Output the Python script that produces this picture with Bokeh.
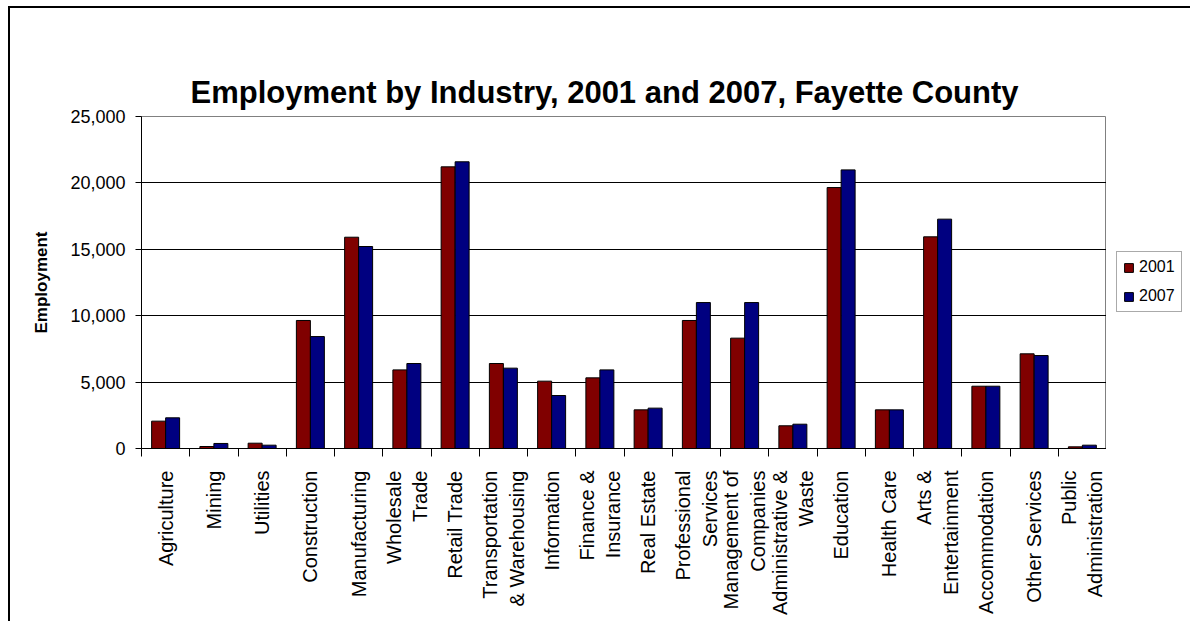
import math
from bokeh.plotting import figure
from bokeh.layouts import row
from bokeh.models import (Range1d, FixedTicker, NumeralTickFormatter, Legend, LegendItem,
                          ColumnDataSource, Title)
from bokeh.transform import dodge
from bokeh.embed import file_html
from bokeh.resources import INLINE

title_text = "Employment by Industry, 2001 and 2007, Fayette County"
categories = ["Agriculture", "Mining", "Utilities", "Construction", "Manufacturing",
              "Wholesale\nTrade", "Retail Trade", "Transportation\n& Warehousing",
              "Information", "Finance &\nInsurance", "Real Estate", "Professional\nServices",
              "Management of\nCompanies", "Administrative &\nWaste", "Education",
              "Health Care", "Arts &\nEntertainment", "Accommodation", "Other Services",
              "Public\nAdministration"]
emp_2001 = [2060, 150, 400, 9640, 15910, 5920, 21210, 6400, 5070, 5320,
            2910, 9640, 8310, 1710, 19650, 2910, 15940, 4690, 7130, 125]
emp_2007 = [2310, 380, 250, 8430, 15210, 6400, 21590, 6050, 3990, 5920,
            3040, 10990, 10990, 1830, 20980, 2910, 17270, 4690, 7000, 250]
series_names = ["2001", "2007"]
series_colors = ["#800000", "#000080"]
y_ticks = [0, 5000, 10000, 15000, 20000, 25000]
y_max = 25000

FONT = "Liberation Sans"
positions = list(range(1, len(categories) + 1))
src = ColumnDataSource(dict(x=positions, a=emp_2001, b=emp_2007))

# ---- main chart ----
# the built-in title slot (closest to the plot area) is a blank white spacer;
# the visible chart title is an extra Title panel stacked above it
spacer = Title(text=".", text_font_size="10px", standoff=33, text_color="white")
p = figure(width=1096, height=613, title=spacer,
           x_range=Range1d(0.5, len(categories) + 0.5), y_range=Range1d(0, y_max),
           output_backend="svg", toolbar_location=None,
           min_border_left=131, min_border_top=108, min_border_bottom=173, min_border_right=0)
p.background_fill_color = "white"
p.border_fill_color = "white"
p.outline_line_color = "#808080"
p.outline_line_width = 1

chart_title = Title(text=title_text, text_font=FONT, text_font_size="31px",
                    text_font_style="bold", text_color="black",
                    align="left", offset=49, standoff=10, vertical_align="top")
p.add_layout(chart_title, "above")

bw = 0.29
r1 = p.vbar(x=dodge("x", -bw / 2), top="a", bottom=0, width=bw, source=src,
            fill_color=series_colors[0], line_color="black", line_width=1)
r2 = p.vbar(x=dodge("x", bw / 2), top="b", bottom=0, width=bw, source=src,
            fill_color=series_colors[1], line_color="black", line_width=1)

# x axis: labels centred on categories, tick marks on category boundaries
xa = p.xaxis[0]
xa.ticker = FixedTicker(ticks=positions,
                        minor_ticks=[i + 0.5 for i in range(0, len(categories) + 1)])
xa.major_label_overrides = {i: c for i, c in zip(positions, categories)}
xa.major_label_orientation = math.pi / 2
xa.major_tick_out = 0
xa.major_tick_in = 0
xa.minor_tick_out = 8
xa.minor_tick_in = 0
xa.minor_tick_line_color = "black"
xa.axis_line_color = "black"
xa.major_label_standoff = 14
xa.major_label_text_font = FONT
xa.major_label_text_font_size = "20px"
xa.major_label_text_color = "black"

# y axis
ya = p.yaxis[0]
ya.ticker = FixedTicker(ticks=y_ticks)
ya.formatter = NumeralTickFormatter(format="0,0")
ya.major_tick_out = 6
ya.major_tick_in = 0
ya.minor_tick_line_color = None
ya.axis_line_color = "black"
ya.major_tick_line_color = "black"
ya.major_label_standoff = 10
ya.major_label_text_font = FONT
ya.major_label_text_font_size = "18px"
ya.major_label_text_color = "black"
ya.axis_label = "Employment"
ya.axis_label_text_font = FONT
ya.axis_label_text_font_style = "bold"
ya.axis_label_text_font_size = "17px"
ya.axis_label_text_color = "black"
ya.axis_label_standoff = 16

p.xgrid.visible = False
p.ygrid.ticker = FixedTicker(ticks=y_ticks[1:-1])
p.ygrid.grid_line_color = "black"
p.ygrid.grid_line_width = 1

# ---- legend panel (separate small figure to the right of the plot area) ----
# the same bars are drawn here outside the visible range, only to feed the legend swatches
lf = figure(width=84, height=613, x_range=Range1d(-3, -2), y_range=Range1d(0, y_max),
            output_backend="svg", toolbar_location=None,
            x_axis_location=None, y_axis_location=None, min_border=0)
lf.grid.visible = False
lf.outline_line_color = None
lf.background_fill_color = "white"
lf.border_fill_color = "white"
lr = [lf.vbar(x="x", top=col, bottom=0, width=bw, source=src,
              fill_color=c, line_color="black", line_width=1)
      for col, c in zip(["a", "b"], series_colors)]
legend = Legend(items=[LegendItem(label=n, renderers=[r]) for n, r in zip(series_names, lr)],
                location=(10, 136), orientation="vertical",
                label_text_font=FONT, label_text_font_size="16px", label_text_color="black",
                glyph_width=11, glyph_height=11, label_standoff=5,
                spacing=11, padding=6, margin=0,
                border_line_color="#555555", border_line_width=1,
                background_fill_color="white", background_fill_alpha=1)
lf.add_layout(legend)

layout = row(p, lf)
layout.styles = {"margin-left": "8px", "margin-top": "6px",
                 "border-left": "2px solid black", "border-top": "2px solid black"}

open("out.html", "w").write(file_html(layout, INLINE))
